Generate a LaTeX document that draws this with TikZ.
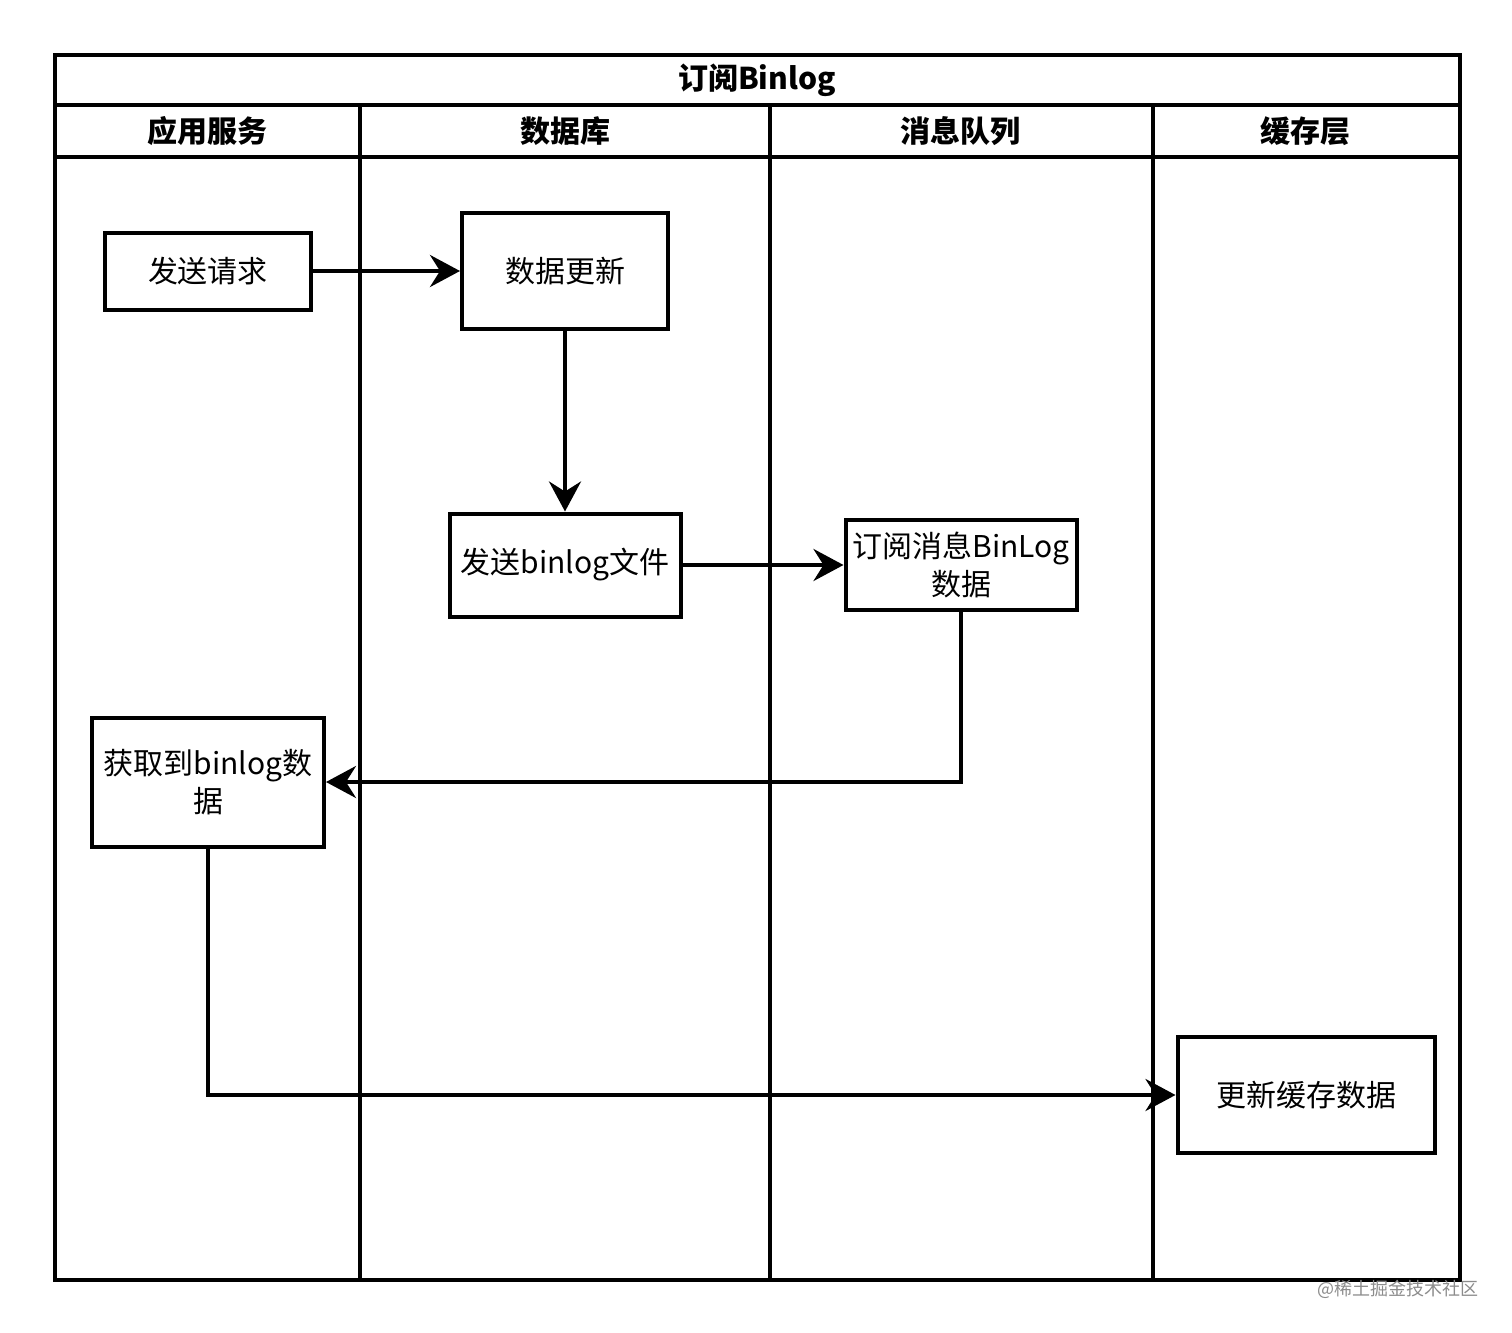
\documentclass[tikz,border=0pt]{standalone}
\usepackage{fontspec}
\setmainfont{Noto Sans CJK SC}
\usetikzlibrary{arrows.meta}

\begin{document}
\begin{tikzpicture}[
    x=0.5pt, y=-0.5pt,
    >={Stealth[length=15pt, width=16pt, inset=5pt]},
    font=\fontsize{15}{19}\selectfont,
    arr/.style={->, line width=2pt},
    frame/.style={draw, line width=2pt},
    box/.style={draw, line width=2pt, align=center, inner sep=1pt},
    head/.style={font=\fontsize{15}{19}\selectfont\bfseries},
    note/.style={font=\fontsize{9}{11}\selectfont, text=black!45}
]
\useasboundingbox (0,0) rectangle (1512,1333);

% =========================================================
% 1) POOL FRAME AND LANES
% =========================================================
\draw[frame] (55,55) rectangle (1460,1280);
\draw[frame] (55,105) -- (1460,105);
\draw[frame] (55,157) -- (1460,157);
\foreach \lx in {360,770,1153}
  \draw[frame] (\lx,105) -- (\lx,1280);

\node[head] (title) at (757,80) {订阅Binlog};
\node[head] (hApp) at (207,131) {应用服务};
\node[head] (hDb) at (565,131) {数据库};
\node[head] (hMq) at (960,131) {消息队列};
\node[head] (hCache) at (1305,131) {缓存层};

% =========================================================
% 2) STEPS
% =========================================================
\node[box, minimum width=103pt, minimum height=38.5pt] (req) at (208,271) {发送请求};
\node[box, minimum width=103pt, minimum height=58pt] (upd) at (565,271) {数据更新};
\node[box, minimum width=115.5pt, minimum height=51.5pt] (send) at (565,565) {发送binlog文件};
\node[box, minimum width=115.5pt, minimum height=45pt] (sub) at (961,565) {订阅消息BinLog\\数据};
\node[box, minimum width=116pt, minimum height=64.5pt] (get) at (208,782) {获取到binlog数\\据};
\node[box, minimum width=128.5pt, minimum height=58pt] (cache) at (1306,1095) {更新缓存数据};

% flow
\draw[arr] (req.east) -- (upd.west);
\draw[arr] (upd.south) -- (send.north);
\draw[arr] (send.east) -- (sub.west);
\draw[arr] (sub.south) |- (get.east);
\draw[arr] (get.south) |- (cache.west);

% watermark
\node[note] (mark) at (1398,1289) {@稀土掘金技术社区};

\end{tikzpicture}
\end{document}
